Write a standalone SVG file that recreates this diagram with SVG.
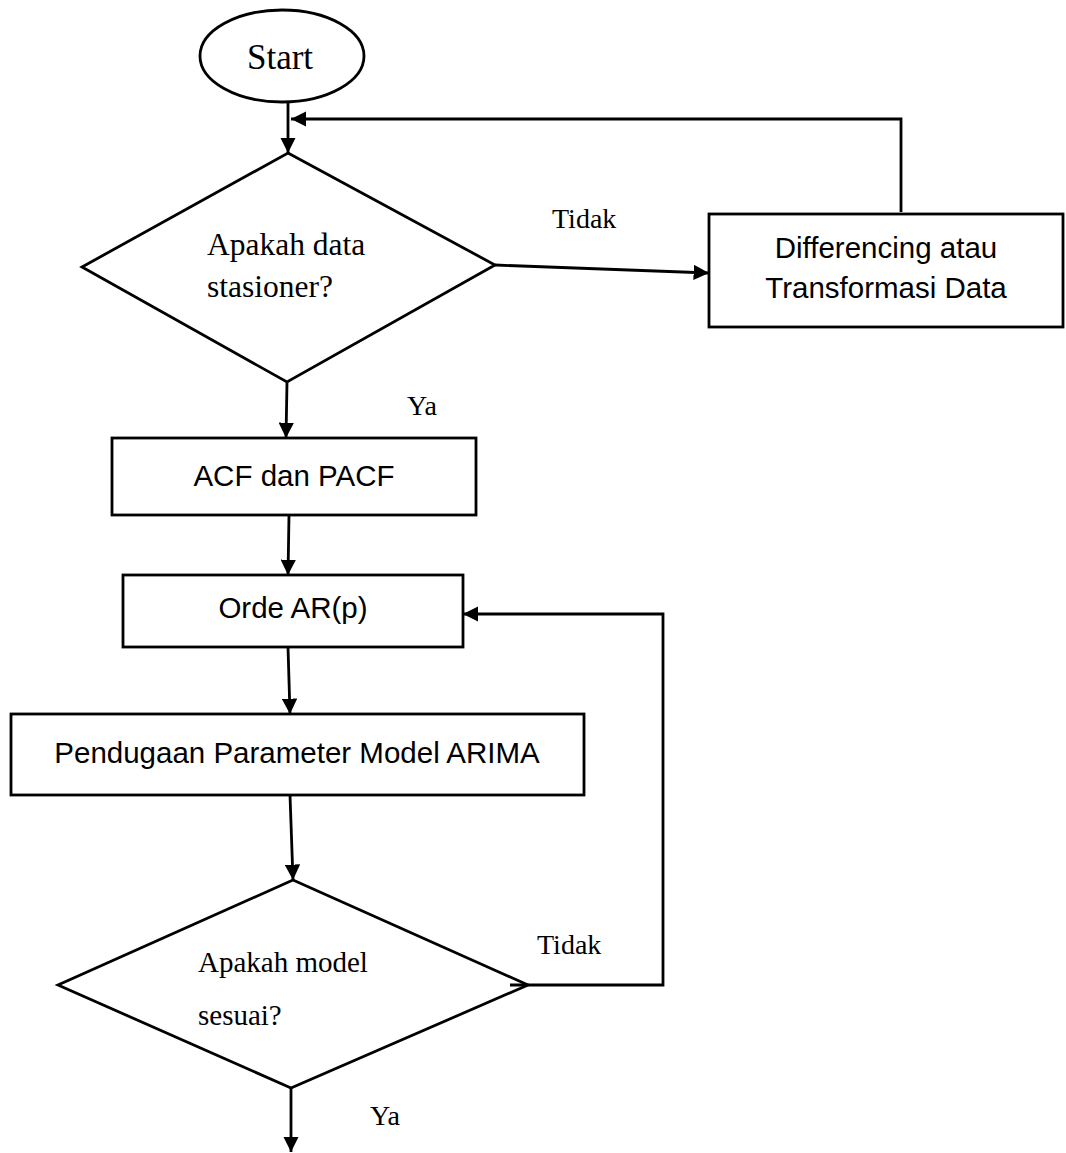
<svg xmlns="http://www.w3.org/2000/svg" width="1066" height="1153" viewBox="0 0 1066 1153">
<style>
.shape{fill:#fff;stroke:#000;stroke-width:2.8}
.line{fill:none;stroke:#000;stroke-width:2.8}
.serif{font-family:"Liberation Serif","Times New Roman",serif;fill:#000}
.sans{font-family:"Liberation Sans",Arial,sans-serif;font-size:29.5px;fill:#000;text-anchor:middle}
</style>
<defs>
<marker id="arr" viewBox="0 0 10 10" refX="10" refY="5" markerWidth="5.5" markerHeight="5.5" orient="auto" markerUnits="strokeWidth">
<path d="M0,0 L10,5 L0,10 z" fill="#000"/>
</marker>
</defs>
<rect width="1066" height="1153" fill="#fff"/>
<g id="start">
<ellipse class="shape" cx="282" cy="56" rx="82" ry="46"/>
<text class="serif" x="280" y="69" font-size="35" text-anchor="middle">Start</text>
</g>
<g id="decision1">
<polygon class="shape" points="288,153 495,265 287,382 82,267"/>
<text class="serif" x="207" y="255" font-size="31.5">Apakah data</text>
<text class="serif" x="207" y="297" font-size="31.5">stasioner?</text>
</g>
<g id="transform">
<rect class="shape" x="709" y="214" width="354" height="113"/>
<text class="sans" x="886" y="258">Differencing atau</text>
<text class="sans" x="886" y="298">Transformasi Data</text>
</g>
<g id="acf">
<rect class="shape" x="112" y="438" width="364" height="77"/>
<text class="sans" x="294" y="486">ACF dan PACF</text>
</g>
<g id="orde">
<rect class="shape" x="123" y="575" width="340" height="72"/>
<text class="sans" x="293" y="618">Orde AR(p)</text>
</g>
<g id="pendugaan">
<rect class="shape" x="11" y="714" width="573" height="81"/>
<text class="sans" x="297" y="763">Pendugaan Parameter Model ARIMA</text>
</g>
<g id="decision2">
<polygon class="shape" points="293,880 528,985 291,1088 58,985"/>
<text class="serif" x="198" y="972" font-size="29">Apakah model</text>
<text class="serif" x="198" y="1025" font-size="29">sesuai?</text>
</g>
<g id="connectors">
<line class="line" x1="288" y1="102" x2="288" y2="153" marker-end="url(#arr)"/>
<polyline class="line" points="901,212 901,119 291,119" marker-end="url(#arr)"/>
<line class="line" x1="495" y1="265" x2="709" y2="273" marker-end="url(#arr)"/>
<line class="line" x1="287" y1="382" x2="286" y2="438" marker-end="url(#arr)"/>
<line class="line" x1="289" y1="515" x2="288" y2="575" marker-end="url(#arr)"/>
<line class="line" x1="288" y1="647" x2="290" y2="714" marker-end="url(#arr)"/>
<line class="line" x1="290" y1="795" x2="293" y2="880" marker-end="url(#arr)"/>
<polyline class="line" points="510,985 663,985 663,614 463,614" marker-end="url(#arr)"/>
<line class="line" x1="291" y1="1088" x2="291" y2="1152" marker-end="url(#arr)"/>
<text class="serif" x="552" y="228" font-size="28">Tidak</text>
<text class="serif" x="407" y="415" font-size="28">Ya</text>
<text class="serif" x="537" y="954" font-size="28">Tidak</text>
<text class="serif" x="370" y="1125" font-size="28">Ya</text>
</g>
</svg>
